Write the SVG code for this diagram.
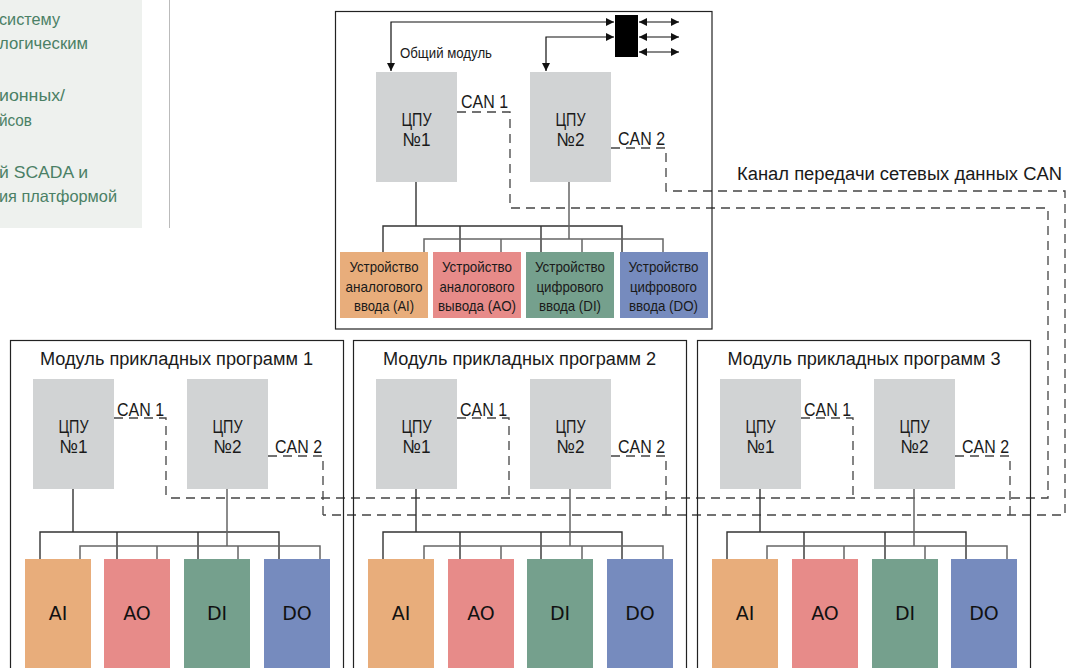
<svg xmlns="http://www.w3.org/2000/svg" width="1069" height="668" viewBox="0 0 1069 668">
<style>
.t{font-family:'Liberation Sans Narrow','Liberation Sans',Arial,sans-serif;fill:#1a1a1a}
.side{font-family:'Liberation Sans',Arial,sans-serif;font-size:16.5px;fill:#4a8065}
.cpu{fill:#d1d3d4}
.box{fill:none;stroke:#222;stroke-width:1.2}
.t1{fill:none;stroke:#333;stroke-width:1.4}
.t2{fill:none;stroke:#666;stroke-width:1.5}
.can{fill:none;stroke:#444;stroke-width:1.3;stroke-dasharray:9 6}
.ai{fill:#e8ad7b}.ao{fill:#e78b89}.di{fill:#75a08d}.do{fill:#768bbe}
.io{font-family:'DejaVu Sans',sans-serif;font-size:19px;fill:#111;text-anchor:middle}
.mid{text-anchor:middle}
.arr{fill:none;stroke:#111;stroke-width:1.2}
</style>
<defs>
<marker id="ah" viewBox="0 0 10 10" refX="10" refY="5" markerWidth="8" markerHeight="8" markerUnits="userSpaceOnUse" orient="auto-start-reverse">
<path d="M0,0 L10,5 L0,10 Z" fill="#111"/>
</marker>
</defs>
<rect width="1069" height="668" fill="#fff"/>

<!-- side panel -->
<g id="side-panel">
<rect x="0" y="0" width="142" height="228" fill="#eef1ee"/>
<line x1="169.5" y1="0" x2="169.5" y2="228" stroke="#bbb" stroke-width="1"/>
<text class="side" x="-1" y="25" textLength="61" lengthAdjust="spacingAndGlyphs">систему</text>
<text class="side" x="-1" y="49" textLength="89" lengthAdjust="spacingAndGlyphs">логическим</text>
<text class="side" x="-1" y="101" textLength="66" lengthAdjust="spacingAndGlyphs">ионных/</text>
<text class="side" x="-1" y="126" textLength="33" lengthAdjust="spacingAndGlyphs">йсов</text>
<text class="side" x="-1" y="178" textLength="89" lengthAdjust="spacingAndGlyphs">й SCADA и</text>
<text class="side" x="-1" y="202" textLength="118" lengthAdjust="spacingAndGlyphs">ия платформой</text>
</g>

<!-- connectors -->
<g id="connectors">
<!-- CAN buses -->
<path class="can" d="M457,112 H510 V208 H1048 V498 H166"/>
<path class="can" d="M611,148 H666 V191 H1065 V515 H323"/>
<path class="can" d="M114,418 H166 V498"/>
<path class="can" d="M268,456 H323 V515"/>
<path class="can" d="M457,418 H509 V498"/>
<path class="can" d="M611,456 H666 V515"/>
<path class="can" d="M801,418 H853 V498"/>
<path class="can" d="M955,456 H1010 V515"/>
<!-- switch arrows -->
<path class="arr" d="M391,71 V22 H614" marker-start="url(#ah)" marker-end="url(#ah)"/>
<path class="arr" d="M546,71 V37 H614" marker-start="url(#ah)" marker-end="url(#ah)"/>
<path class="arr" d="M639,22 H679" marker-start="url(#ah)" marker-end="url(#ah)"/>
<path class="arr" d="M639,37 H679" marker-start="url(#ah)" marker-end="url(#ah)"/>
<path class="arr" d="M639,52 H679" marker-start="url(#ah)" marker-end="url(#ah)"/>
<!-- top module trees -->
<path class="t1" d="M416,182 V226 M383,252 V226 H622 V252 M460,226 V252 M541,226 V252"/>
<path class="t2" d="M569,182 V239 M424,252 V239 H663 V252 M501,239 V252 M582,239 V252"/>
<!-- module trees -->
<path class="t1" d="M73,489 V532 M40,559 V532 H279 V559 M117,532 V559 M198,532 V559"/>
<path class="t2" d="M227,489 V546 M80,559 V546 H320 V559 M157,546 V559 M238,546 V559"/>
<path class="t1" d="M416,489 V532 M383,559 V532 H622 V559 M460,532 V559 M541,532 V559"/>
<path class="t2" d="M570,489 V546 M424,559 V546 H663 V559 M501,546 V559 M582,546 V559"/>
<path class="t1" d="M760,489 V532 M727,559 V532 H966 V559 M804,532 V559 M885,532 V559"/>
<path class="t2" d="M914,489 V546 M767,559 V546 H1007 V559 M844,546 V559 M925,546 V559"/>
</g>

<!-- common module -->
<g id="common-module">
<rect class="box" x="335.5" y="11.5" width="376.5" height="317.5"/>
<text class="t" x="400" y="58" font-size="14" textLength="92" lengthAdjust="spacingAndGlyphs">Общий модуль</text>
</g>
<g id="switch"><rect x="615" y="15" width="23" height="42" fill="#000"/></g>
<g id="top-cpu1">
<rect class="cpu" x="376" y="72" width="81" height="110"/>
<text class="t mid" x="416.5" y="126" font-size="19" textLength="30" lengthAdjust="spacingAndGlyphs">ЦПУ</text>
<text class="t mid" x="416.5" y="146" font-size="19" textLength="28" lengthAdjust="spacingAndGlyphs">№1</text>
<text class="t" x="461" y="108" font-size="18" textLength="47" lengthAdjust="spacingAndGlyphs">CAN 1</text>
</g>
<g id="top-cpu2">
<rect class="cpu" x="530" y="72" width="81" height="110"/>
<text class="t mid" x="570.5" y="126" font-size="19" textLength="30" lengthAdjust="spacingAndGlyphs">ЦПУ</text>
<text class="t mid" x="570.5" y="146" font-size="19" textLength="28" lengthAdjust="spacingAndGlyphs">№2</text>
<text class="t" x="618" y="145" font-size="18" textLength="47" lengthAdjust="spacingAndGlyphs">CAN 2</text>
</g>
<g id="top-ai">
<rect class="ai" x="340" y="252" width="88" height="66"/>
<text class="t mid" x="384" y="272" font-size="14.5" textLength="69" lengthAdjust="spacingAndGlyphs">Устройство</text>
<text class="t mid" x="384" y="292" font-size="14.5" textLength="77" lengthAdjust="spacingAndGlyphs">аналогового</text>
<text class="t mid" x="384" y="311" font-size="14.5" textLength="60" lengthAdjust="spacingAndGlyphs">ввода (AI)</text>
</g>
<g id="top-ao">
<rect class="ao" x="433" y="252" width="88" height="66"/>
<text class="t mid" x="477" y="272" font-size="14.5" textLength="70" lengthAdjust="spacingAndGlyphs">Устройство</text>
<text class="t mid" x="477" y="292" font-size="14.5" textLength="75" lengthAdjust="spacingAndGlyphs">аналогового</text>
<text class="t mid" x="477" y="311" font-size="14.5" textLength="78" lengthAdjust="spacingAndGlyphs">вывода (AO)</text>
</g>
<g id="top-di">
<rect class="di" x="526" y="252" width="88" height="66"/>
<text class="t mid" x="570" y="272" font-size="14.5" textLength="70" lengthAdjust="spacingAndGlyphs">Устройство</text>
<text class="t mid" x="570" y="292" font-size="14.5" textLength="67" lengthAdjust="spacingAndGlyphs">цифрового</text>
<text class="t mid" x="570" y="311" font-size="14.5" textLength="62" lengthAdjust="spacingAndGlyphs">ввода (DI)</text>
</g>
<g id="top-do">
<rect class="do" x="620" y="252" width="88" height="66"/>
<text class="t mid" x="663.5" y="272" font-size="14.5" textLength="70" lengthAdjust="spacingAndGlyphs">Устройство</text>
<text class="t mid" x="663.5" y="292" font-size="14.5" textLength="67" lengthAdjust="spacingAndGlyphs">цифрового</text>
<text class="t mid" x="663.5" y="311" font-size="14.5" textLength="69" lengthAdjust="spacingAndGlyphs">ввода (DO)</text>
</g>

<g id="can-label">
<text class="t" x="737" y="180" font-size="18" textLength="325" lengthAdjust="spacingAndGlyphs">Канал передачи сетевых данных CAN</text>
</g>

<!-- application modules -->
<g id="module1">
<rect class="box" x="10.5" y="340.5" width="333" height="340"/>
<text class="t mid" x="176.5" y="365" font-size="18" textLength="273" lengthAdjust="spacingAndGlyphs">Модуль прикладных программ 1</text>
<g id="m1-cpu1"><rect class="cpu" x="33" y="379" width="81" height="110"/>
<text class="t mid" x="73.5" y="433" font-size="19" textLength="30" lengthAdjust="spacingAndGlyphs">ЦПУ</text>
<text class="t mid" x="73.5" y="453" font-size="19" textLength="28" lengthAdjust="spacingAndGlyphs">№1</text>
<text class="t" x="117" y="416" font-size="18" textLength="47" lengthAdjust="spacingAndGlyphs">CAN 1</text></g>
<g id="m1-cpu2"><rect class="cpu" x="187" y="379" width="81" height="110"/>
<text class="t mid" x="227.5" y="433" font-size="19" textLength="30" lengthAdjust="spacingAndGlyphs">ЦПУ</text>
<text class="t mid" x="227.5" y="453" font-size="19" textLength="28" lengthAdjust="spacingAndGlyphs">№2</text>
<text class="t" x="275" y="453" font-size="18" textLength="47" lengthAdjust="spacingAndGlyphs">CAN 2</text></g>
<g id="m1-ai"><rect class="ai" x="25" y="559" width="66" height="120"/><text class="io" x="58" y="620">AI</text></g>
<g id="m1-ao"><rect class="ao" x="104" y="559" width="66" height="120"/><text class="io" x="137" y="620">AO</text></g>
<g id="m1-di"><rect class="di" x="184" y="559" width="66" height="120"/><text class="io" x="217" y="620">DI</text></g>
<g id="m1-do"><rect class="do" x="264" y="559" width="66" height="120"/><text class="io" x="297" y="620">DO</text></g>
</g>

<g id="module2">
<rect class="box" x="353.5" y="340.5" width="333" height="340"/>
<text class="t mid" x="519.5" y="365" font-size="18" textLength="273" lengthAdjust="spacingAndGlyphs">Модуль прикладных программ 2</text>
<g id="m2-cpu1"><rect class="cpu" x="376" y="379" width="81" height="110"/>
<text class="t mid" x="416.5" y="433" font-size="19" textLength="30" lengthAdjust="spacingAndGlyphs">ЦПУ</text>
<text class="t mid" x="416.5" y="453" font-size="19" textLength="28" lengthAdjust="spacingAndGlyphs">№1</text>
<text class="t" x="460" y="416" font-size="18" textLength="47" lengthAdjust="spacingAndGlyphs">CAN 1</text></g>
<g id="m2-cpu2"><rect class="cpu" x="530" y="379" width="81" height="110"/>
<text class="t mid" x="570.5" y="433" font-size="19" textLength="30" lengthAdjust="spacingAndGlyphs">ЦПУ</text>
<text class="t mid" x="570.5" y="453" font-size="19" textLength="28" lengthAdjust="spacingAndGlyphs">№2</text>
<text class="t" x="618" y="453" font-size="18" textLength="47" lengthAdjust="spacingAndGlyphs">CAN 2</text></g>
<g id="m2-ai"><rect class="ai" x="368" y="559" width="66" height="120"/><text class="io" x="401" y="620">AI</text></g>
<g id="m2-ao"><rect class="ao" x="448" y="559" width="66" height="120"/><text class="io" x="481" y="620">AO</text></g>
<g id="m2-di"><rect class="di" x="527" y="559" width="66" height="120"/><text class="io" x="560" y="620">DI</text></g>
<g id="m2-do"><rect class="do" x="607" y="559" width="66" height="120"/><text class="io" x="640" y="620">DO</text></g>
</g>

<g id="module3">
<rect class="box" x="697.5" y="340.5" width="333" height="340"/>
<text class="t mid" x="864" y="365" font-size="18" textLength="273" lengthAdjust="spacingAndGlyphs">Модуль прикладных программ 3</text>
<g id="m3-cpu1"><rect class="cpu" x="720" y="379" width="81" height="110"/>
<text class="t mid" x="760.5" y="433" font-size="19" textLength="30" lengthAdjust="spacingAndGlyphs">ЦПУ</text>
<text class="t mid" x="760.5" y="453" font-size="19" textLength="28" lengthAdjust="spacingAndGlyphs">№1</text>
<text class="t" x="804" y="416" font-size="18" textLength="47" lengthAdjust="spacingAndGlyphs">CAN 1</text></g>
<g id="m3-cpu2"><rect class="cpu" x="874" y="379" width="81" height="110"/>
<text class="t mid" x="914.5" y="433" font-size="19" textLength="30" lengthAdjust="spacingAndGlyphs">ЦПУ</text>
<text class="t mid" x="914.5" y="453" font-size="19" textLength="28" lengthAdjust="spacingAndGlyphs">№2</text>
<text class="t" x="962" y="453" font-size="18" textLength="47" lengthAdjust="spacingAndGlyphs">CAN 2</text></g>
<g id="m3-ai"><rect class="ai" x="712" y="559" width="66" height="120"/><text class="io" x="745" y="620">AI</text></g>
<g id="m3-ao"><rect class="ao" x="792" y="559" width="66" height="120"/><text class="io" x="825" y="620">AO</text></g>
<g id="m3-di"><rect class="di" x="872" y="559" width="66" height="120"/><text class="io" x="905" y="620">DI</text></g>
<g id="m3-do"><rect class="do" x="951" y="559" width="66" height="120"/><text class="io" x="984" y="620">DO</text></g>
</g>
</svg>
